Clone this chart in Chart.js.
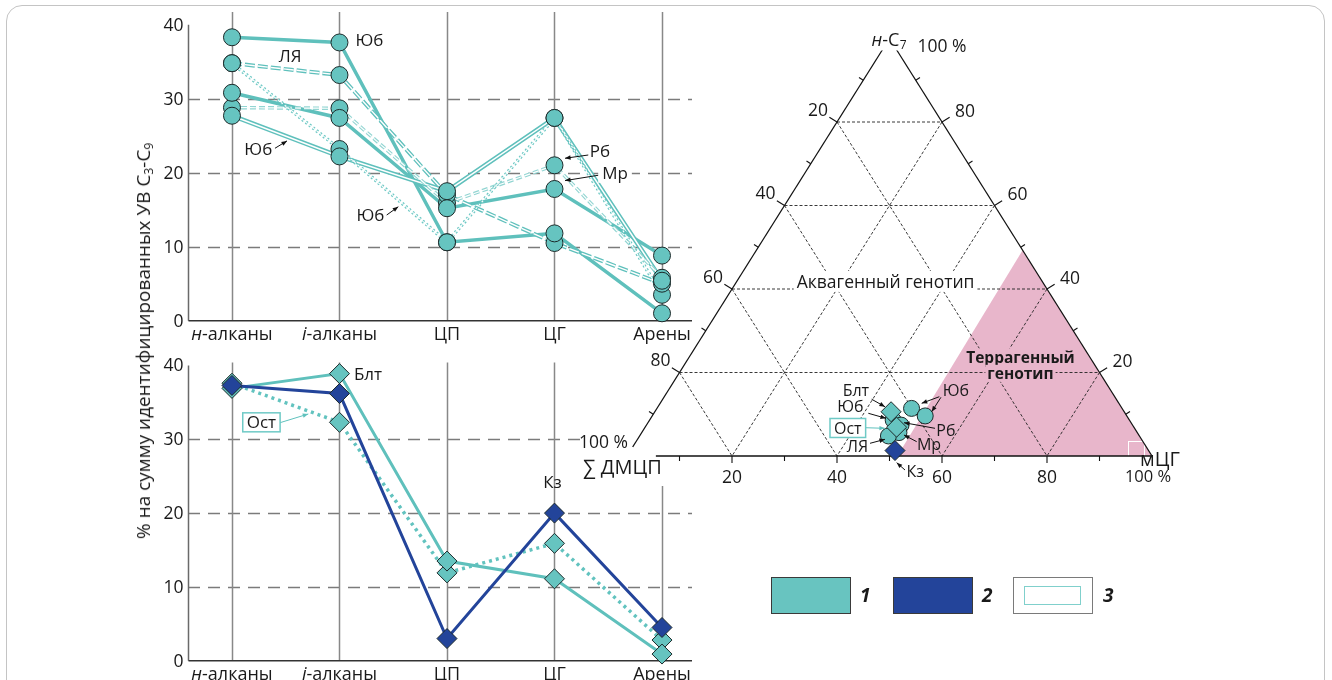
<!DOCTYPE html>
<html lang="ru"><head><meta charset="utf-8">
<script src="https://cdn.jsdelivr.net/npm/chart.js@4.4.1/dist/chart.umd.min.js"></script>
<style>
html,body{margin:0;padding:0;background:#fff;}
body{width:1332px;height:680px;overflow:hidden;position:relative;font-family:'Open Sans',sans-serif;color:#1a1a1a;}
#frame{position:absolute;left:6px;top:5px;width:1319px;height:760px;box-sizing:border-box;border:1.5px solid #c4c4c4;border-radius:16px;}
canvas{position:absolute;left:0;top:0;}
#ytitle{position:absolute;left:143px;top:341px;transform:translate(-50%,-50%) rotate(-90deg);white-space:nowrap;font-size:19px;line-height:22px;}
#ytitle sub{font-size:12px;vertical-align:-3px;line-height:0;}
.lg{position:absolute;top:577px;width:80px;height:37px;box-sizing:border-box;}
.ln{position:absolute;top:584px;font-size:19px;line-height:22px;font-weight:700;font-style:italic;}
</style></head><body>
<div id="frame"></div>
<canvas id="cTop" width="1332" height="680"></canvas>
<canvas id="cBot" width="1332" height="680"></canvas>
<canvas id="cTern" width="1332" height="680"></canvas>
<div id="ytitle">% на сумму идентифицированных УВ C<sub>3</sub>-C<sub>9</sub></div>
<div class="lg" style="left:771px;background:#68c4c0;border:1.5px solid #3a3a3a"></div>
<div class="ln" style="left:860px">1</div>
<div class="lg" style="left:893px;background:#23449a;border:1.5px solid #3a3a3a"></div>
<div class="ln" style="left:982px">2</div>
<div class="lg" style="left:1013px;background:#fff;border:1.5px solid #7a7a7a"></div>
<div style="position:absolute;left:1024px;top:586px;width:57px;height:19px;box-sizing:border-box;border:1.5px solid #80d0cc"></div>
<div class="ln" style="left:1103px">3</div>
<script>
// ---------- data ----------
const categories = ['н-алканы','i-алканы','ЦП','ЦГ','Арены'];
const catItalicPrefix = ['н','i','','',''];
const yTickValues = [0,10,20,30,40];
const gridValues = [10,20,30];

// upper panel (group 1, circles)
const yub1 = [38.3, 37.6, 10.6, 11.8, 1.0];
const mr   = [30.8, 27.4, 15.2, 17.8, 8.8];
const yub2 = [27.7, 22.2, 17.5, 27.4, 5.4];
const lya  = [34.8, 33.2, 17.0, 10.5, 5.0];
const rb   = [28.8, 28.7, 15.9, 21.0, 5.8];
const yub3 = [34.8, 23.2, 10.6, 27.4, 3.5];

// lower panel (diamonds)
const blt = [36.9, 38.9, 13.5, 11.1, 0.9];
const kz  = [37.3, 36.2, 3.0, 20.0, 4.5];
const ost = [37.6, 32.3, 11.9, 15.9, 2.8];

// ternary diagram: н-C7, мЦГ, ∑ДМЦП (%)
const ternNames = ['Юб','Юб','Юб','Рб','Мр','ЛЯ','Блт','Ост','Кз'];
const ternNC7   = [11.4, 9.6, 8.6, 7.4, 5.6, 4.8, 10.6, 6.9, 1.3];
const ternMCG   = [48.5, 52.0, 46.4, 48.5, 49.0, 47.4, 45.0, 47.9, 50.4];
const ternDMCP  = [40.1, 38.4, 45.0, 44.1, 45.4, 47.8, 44.4, 45.2, 48.3];
const ternGroup = [1,1,1,1,1,1,1,3,2];
const ternShape = ['circle','circle','circle','circle','circle','circle','diamond','diamond','diamond'];
const ternTicks = [20,40,60,80];
const ternMinorTicks = [10,30,50,70,90];
const terraNC7 = [49.3, 0, 0];
const terraMCG = [50.7, 100, 51.5];

// ---------- styles ----------
const TEAL = '#5fc0bc', TEAL_FILL = '#66c4c0', DARK = '#23449a', OUT = '#1c2a2a';
const FONT = '"Open Sans", sans-serif';

function drawArrow(ctx,x1,y1,x2,y2,color,head){
  ctx.save(); ctx.strokeStyle=color; ctx.fillStyle=color; ctx.lineWidth=1; ctx.setLineDash([]);
  ctx.beginPath(); ctx.moveTo(x1,y1); ctx.lineTo(x2,y2); ctx.stroke();
  const a=Math.atan2(y2-y1,x2-x1), h=head||6;
  ctx.beginPath(); ctx.moveTo(x2,y2);
  ctx.lineTo(x2-h*Math.cos(a-0.38), y2-h*Math.sin(a-0.38));
  ctx.lineTo(x2-h*Math.cos(a+0.38), y2-h*Math.sin(a+0.38));
  ctx.closePath(); ctx.fill(); ctx.restore();
}
function drawNote(ctx,n,X,Y,font){
  if (n.arrow) drawArrow(ctx,X(n.arrow[0]),Y(n.arrow[1]),X(n.arrow[2]),Y(n.arrow[3]),n.arrowColor||'#111');
  if (!n.text) return;
  ctx.save();
  ctx.font=font; const w=ctx.measureText(n.text).width; const cx=X(n.at[0]), cy=Y(n.at[1]);
  if (n.bg||n.box){ ctx.fillStyle='#fff'; ctx.fillRect(cx-w/2-4, cy-9.5, w+8, 19); }
  if (n.box){ ctx.strokeStyle=n.box; ctx.lineWidth=1.5; ctx.strokeRect(cx-w/2-4, cy-9.5, w+8, 19); }
  ctx.fillStyle='#1a1a1a'; ctx.textAlign='center'; ctx.textBaseline='middle'; ctx.fillText(n.text,cx,cy+1);
  ctx.restore();
}

// ---------- line panels ----------
function makePanelPlugin(cfg){
  return {
    id:'panel'+cfg.id,
    beforeDatasetsDraw(chart){
      const ctx=chart.ctx, xs=chart.scales.x, ys=chart.scales.y;
      const X=v=>xs.getPixelForValue(v), Y=v=>ys.getPixelForValue(v);
      ctx.save();
      ctx.lineWidth=1.5; ctx.strokeStyle='#7b7b7b'; ctx.setLineDash([12,8]);
      gridValues.forEach(g=>{
        const y=Math.round(Y(g))+0.5;
        const end = (cfg.gridEnd && cfg.gridEnd[g]!==undefined) ? cfg.gridEnd[g] : xs.max;
        ctx.beginPath(); ctx.moveTo(X(xs.min),y); ctx.lineTo(X(end),y); ctx.stroke();
      });
      ctx.setLineDash([]); ctx.strokeStyle='#888'; ctx.lineWidth=1.5;
      categories.forEach((c,i)=>{
        const x=Math.round(X(i))+0.5;
        ctx.beginPath(); ctx.moveTo(x,Y(cfg.vTop[i])); ctx.lineTo(x,Y(0)); ctx.stroke();
      });
      const x0=Math.round(X(xs.min))+0.5;
      ctx.strokeStyle='#6a6a6a';
      ctx.beginPath(); ctx.moveTo(x0,Y(40)); ctx.lineTo(x0,Y(0)); ctx.stroke();
      ctx.strokeStyle='#333';
      ctx.beginPath(); ctx.moveTo(x0,Y(0)); ctx.lineTo(X(xs.max),Y(0)); ctx.stroke();
      ctx.fillStyle='#1a1a1a'; ctx.font='17.5px '+FONT; ctx.textAlign='right'; ctx.textBaseline='middle';
      yTickValues.forEach(t=>ctx.fillText(String(t), x0-5, Y(t)+1));
      ctx.textAlign='left';
      categories.forEach((c,i)=>{
        const pre=catItalicPrefix[i], rest=c.slice(pre.length);
        ctx.font='italic 18px '+FONT; const w1=pre?ctx.measureText(pre).width:0;
        ctx.font='18px '+FONT; const w2=ctx.measureText(rest).width;
        let x=X(i)-(w1+w2)/2; const y=Y(0)+14;
        if (pre){ ctx.font='italic 18px '+FONT; ctx.fillText(pre,x,y); x+=w1; }
        ctx.font='18px '+FONT; ctx.fillText(rest,x,y);
      });
      ctx.restore();
    },
    afterDatasetsDraw(chart){
      const ctx=chart.ctx, xs=chart.scales.x, ys=chart.scales.y;
      const X=v=>xs.getPixelForValue(v), Y=v=>ys.getPixelForValue(v);
      cfg.notes.forEach(n=>drawNote(ctx,n,X,Y,'17px '+FONT));
    }
  };
}
function panel(canvasId,cfg){
  const ds=[];
  cfg.series.forEach((s,k)=>{
    const pts=s.values.map((v,i)=>({x:i,y:v}));
    const base=100-k*3;
    ds.push({data:pts,borderColor:s.color,borderWidth:s.width,borderDash:s.dash||[],pointRadius:0,order:base,clip:false,tension:0});
    if (s.inner) ds.push({data:pts,borderColor:'#fff',borderWidth:s.inner,borderDash:s.dash||[],pointRadius:0,order:base-1,clip:false,tension:0});
  });
  cfg.series.forEach((s,k)=>{
    const pts=s.values.map((v,i)=>({x:i,y:v}));
    ds.push({data:pts,showLine:false,pointStyle:s.marker,pointRadius:s.r,pointBackgroundColor:s.fill,
      pointBorderColor:OUT,pointBorderWidth:1,order:s.mOrder!==undefined?s.mOrder:10,clip:false});
  });
  return new Chart(document.getElementById(canvasId),{
    type:'line', data:{datasets:ds},
    options:{responsive:false,animation:false,events:[],
      layout:{padding:cfg.pad},
      plugins:{legend:{display:false},tooltip:{enabled:false}},
      scales:{x:{type:'linear',min:-0.409,max:4.279,display:false},y:{type:'linear',min:0,max:40,display:false}}},
    plugins:[makePanelPlugin(cfg)]
  });
}

panel('cTop',{
  id:'top',
  pad:{left:188,right:640,top:24.7,bottom:359.3},
  vTop:[41.7,41.7,41.7,41.7,41.7],
  series:[
    {values:yub1,color:TEAL,width:3.5,marker:'circle',r:8.5,fill:TEAL_FILL},
    {values:mr,color:TEAL,width:3.5,marker:'circle',r:8.5,fill:TEAL_FILL},
    {values:yub2,color:TEAL,width:4.5,inner:1.5,marker:'circle',r:8.5,fill:TEAL_FILL},
    {values:lya,color:TEAL,width:4,inner:1.4,dash:[10,3],marker:'circle',r:8.5,fill:TEAL_FILL},
    {values:rb,color:'#92d5d2',width:3.5,inner:1.2,dash:[6,3],marker:'circle',r:8.5,fill:TEAL_FILL},
    {values:yub3,color:'#6cc8c4',width:3.5,inner:1.1,dash:[2,2.5],marker:'circle',r:8.5,fill:TEAL_FILL}
  ],
  notes:[
    {text:'Юб',at:[1.279,37.93]},
    {text:'ЛЯ',at:[0.54,35.7]},
    {text:'Юб',at:[0.245,23.2],arrow:[0.40,23.3,0.512,24.3]},
    {text:'Юб',at:[1.288,14.28],arrow:[1.439,14.28,1.547,15.4]},
    {text:'Рб',at:[3.423,22.86],arrow:[3.314,22.39,3.098,21.95]},
    {text:'Мр',at:[3.563,19.92],bg:true,arrow:[3.423,19.69,3.098,18.93]}
  ]
});

panel('cBot',{
  id:'bot',
  pad:{left:188,right:640,top:365.5,bottom:19.3},
  vTop:[40.4,40.4,40.4,40.4,23.8],
  gridEnd:{30:3.265},
  series:[
    {values:ost,color:'#62c3bf',width:3.5,dash:[3,4],marker:'rectRot',r:10,fill:TEAL_FILL,mOrder:3},
    {values:blt,color:TEAL,width:3,marker:'rectRot',r:10,fill:TEAL_FILL,mOrder:2},
    {values:kz,color:DARK,width:3,marker:'rectRot',r:10,fill:DARK,mOrder:1}
  ],
  notes:[
    {text:'Блт',at:[1.265,38.85]},
    {text:'Ост',at:[0.274,32.3],box:'#6fcac6',arrow:[0.447,32.25,0.71,33.43],arrowColor:'#5fc1bd'},
    {text:'Кз',at:[2.981,24.15]}
  ]
});

// ---------- ternary ----------
const ternNotes = [
  {text:'Блт',at:[0.436,0.158],arrow:[0.466,0.136,0.4914,0.118]},
  {text:'Юб',at:[0.4257,0.1198],arrow:[0.4597,0.1023,0.4933,0.0903]},
  {text:'Ост',at:[0.4206,0.0671],box:'#6fcac6',arrow:[0.4533,0.0678,0.4914,0.0663],arrowColor:'#5fc1bd'},
  {text:'ЛЯ',at:[0.439,0.0223],arrow:[0.4629,0.0304,0.4914,0.040]},
  {text:'Юб',at:[0.6263,0.1574],arrow:[0.5949,0.142,0.5613,0.1262]},
  {text:'',arrow:[0.598,0.1406,0.5804,0.1061]},
  {text:'Рб',at:[0.6073,0.0603],arrow:[0.5867,0.0663,0.5276,0.0798]},
  {text:'Мр',at:[0.5752,0.0268],arrow:[0.5518,0.0343,0.5276,0.0503]},
  {text:'Кз',at:[0.549,-0.0376],arrow:[0.5295,-0.0335,0.5137,-0.016]}
];
const tx=(a,b)=>b/100+a/200, ty=a=>a/100;

const ternPlugin = {
  id:'tern',
  beforeDatasetsDraw(chart){
    const ctx=chart.ctx, xs=chart.scales.x, ys=chart.scales.y;
    const P=(a,b)=>[xs.getPixelForValue(tx(a,b)), ys.getPixelForValue(ty(a))];
    const A=P(100,0), L=P(0,0), R=P(0,100);
    ctx.save();
    // terragenic field
    ctx.fillStyle='#e8b6cb';
    ctx.beginPath();
    terraNC7.forEach((a,i)=>{const p=P(a,terraMCG[i]); i?ctx.lineTo(p[0],p[1]):ctx.moveTo(p[0],p[1]);});
    ctx.closePath(); ctx.fill();
    ctx.strokeStyle='#fff'; ctx.lineWidth=1; ctx.strokeRect(R[0]-23.5,R[1]-14.5,16,15);
    // lattice
    ctx.strokeStyle='#222'; ctx.lineWidth=0.9; ctx.setLineDash([3,2]);
    const seg=(p,q)=>{ctx.beginPath();ctx.moveTo(p[0],p[1]);ctx.lineTo(q[0],q[1]);ctx.stroke();};
    ternTicks.forEach(k=>{
      seg(P(k,0),P(k,100-k));
      seg(P(100-k,k),P(0,k));
      seg(P(100-k,0),P(0,100-k));
    });
    ctx.setLineDash([]);
    // white label background at bottom-left corner
    ctx.fillStyle='#fff'; ctx.fillRect(L[0]-45,L[1]-9,86,39);
    // edges
    ctx.strokeStyle='#111'; ctx.lineWidth=1.3;
    seg(P(100,0),P(2.16,0));
    seg(P(100,0),P(0,100));
    seg(P(0,5.5),P(0,100));
    // ticks
    const nL=[-0.847,-0.532], nR=[0.847,-0.532], nB=[0,1];
    const tick=(p,n,len)=>seg(p,[p[0]+n[0]*len,p[1]+n[1]*len]);
    ctx.lineWidth=1.1;
    ternTicks.forEach(k=>{ tick(P(100-k,0),nL,9); tick(P(k,100-k),nR,9); tick(P(0,k),nB,7); });
    ternMinorTicks.forEach(k=>{ tick(P(100-k,0),nL,5); tick(P(k,100-k),nR,5); tick(P(0,k),nB,5); });
    // tick labels
    ctx.fillStyle='#1a1a1a'; ctx.font='17.5px '+FONT; ctx.textBaseline='middle';
    ternTicks.forEach(k=>{
      let p=P(100-k,0); ctx.textAlign='right'; ctx.fillText(String(k),p[0]-9,p[1]-11);
      p=P(k,100-k); ctx.textAlign='left'; ctx.fillText(String(k),p[0]+13,p[1]-10);
      p=P(0,k); ctx.textAlign='center'; ctx.fillText(String(k),p[0],p[1]+22);
    });
    // apex label
    ctx.fillStyle='#fff'; ctx.fillRect(A[0]-22,A[1]-13,46,25);
    ctx.fillStyle='#1a1a1a'; ctx.textAlign='left';
    let x=A[0]-18;
    ctx.font='italic 18px '+FONT; ctx.fillText('н',x,A[1]+2); x+=ctx.measureText('н').width;
    ctx.font='18px '+FONT; ctx.fillText('-C',x,A[1]+2); x+=ctx.measureText('-C').width;
    ctx.font='12px '+FONT; ctx.fillText('7',x+0.5,A[1]+7);
    ctx.font='17.5px '+FONT; ctx.fillText('100 %',A[0]+28,A[1]+9);
    // left-bottom vertex labels
    ctx.textAlign='right'; ctx.fillText('100 %',L[0]+1,L[1]-13);
    ctx.textAlign='left'; ctx.font='20px '+FONT; ctx.fillText('∑ ДМЦП',L[0]-44,L[1]+12);
    // right vertex labels
    ctx.font='20px '+FONT; ctx.fillText('мЦГ',R[0]-12,R[1]+4);
    ctx.font='16.5px '+FONT; ctx.textAlign='center'; ctx.fillText('100 %',R[0]-4,R[1]+21);
    // field labels
    let c=P(41.7,28.4);
    ctx.font='17.5px '+FONT; let w=ctx.measureText('Аквагенный генотип').width;
    ctx.fillStyle='#fff'; ctx.fillRect(c[0]-w/2-3,c[1]-11,w+6,21);
    ctx.fillStyle='#1a1a1a'; ctx.fillText('Аквагенный генотип',c[0],c[1]+1);
    c=P(21.6,64.15);
    ctx.font='bold 15.5px '+FONT;
    ['Террагенный','генотип'].forEach((t,i)=>{
      const yy=c[1]+(i?8:-8.5); const ww=ctx.measureText(t).width;
      ctx.fillStyle='#e8b6cb'; ctx.fillRect(c[0]-ww/2-2,yy-9,ww+4,17);
      ctx.fillStyle='#1a1a1a'; ctx.fillText(t,c[0],yy+1);
    });
    ctx.restore();
  },
  afterDatasetsDraw(chart){
    const ctx=chart.ctx, xs=chart.scales.x, ys=chart.scales.y;
    const X=v=>xs.getPixelForValue(v), Y=v=>ys.getPixelForValue(v);
    ternNotes.forEach(n=>drawNote(ctx,n,X,Y,'16px '+FONT));
  }
};

function ternPoints(filter){
  const out=[];
  ternNC7.forEach((a,i)=>{ if(filter(i)) out.push({x:tx(a,ternMCG[i]),y:ty(a)}); });
  return out;
}
new Chart(document.getElementById('cTern'),{
  type:'scatter',
  data:{datasets:[
    {data:ternPoints(i=>ternShape[i]==='circle'),pointStyle:'circle',pointRadius:8,backgroundColor:TEAL_FILL,borderColor:OUT,borderWidth:1,order:3,clip:false},
    {data:ternPoints(i=>ternShape[i]==='diamond'&&ternGroup[i]!==2),pointStyle:'rectRot',pointRadius:10,backgroundColor:TEAL_FILL,borderColor:OUT,borderWidth:1,order:2,clip:false},
    {data:ternPoints(i=>ternGroup[i]===2),pointStyle:'rectRot',pointRadius:10,backgroundColor:DARK,borderColor:OUT,borderWidth:1,order:1,clip:false}
  ]},
  options:{responsive:false,animation:false,events:[],
    layout:{padding:{left:627,right:180,top:38.5,bottom:224}},
    plugins:{legend:{display:false},tooltip:{enabled:false}},
    scales:{x:{type:'linear',min:0,max:1,display:false},y:{type:'linear',min:0,max:1,display:false}}},
  plugins:[ternPlugin]
});
</script>
</body></html>
